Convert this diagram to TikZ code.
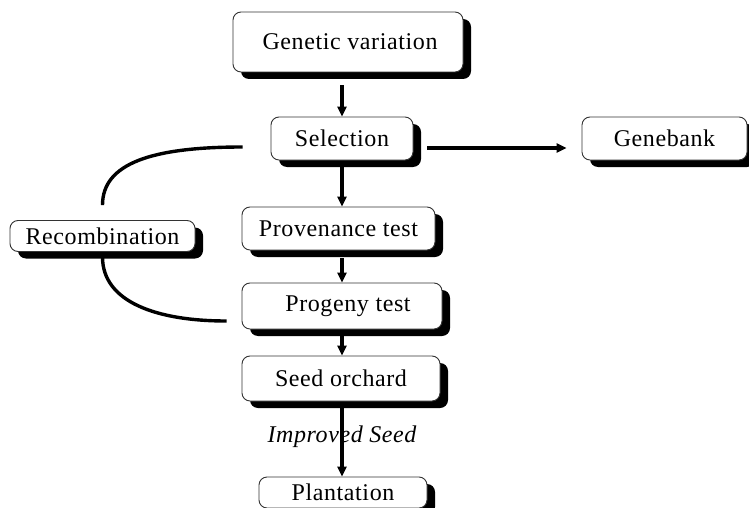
\documentclass[tikz,border=0pt]{standalone}
\usepackage{fontspec}
\setmainfont{Liberation Serif}[LetterSpace=2.5]
\usetikzlibrary{shadows,arrows.meta,calc}
\tikzset{
  box/.style={draw=black!80, line width=0.9pt, rounded corners=8pt, fill=white,
    inner sep=0pt, font=\fontsize{24}{28}\selectfont,
    drop shadow={shadow xshift=8pt, shadow yshift=-7pt, fill=black, opacity=1}},
  arr/.style={line width=3.2pt, -{Triangle[length=10pt,width=9pt]}},
  link/.style={line width=3.4pt},
  lbl/.style={font=\fontsize{24}{28}\selectfont\itshape, inner sep=0pt},
}
\begin{document}
\begin{tikzpicture}[x=1pt,y=-1pt]
\useasboundingbox (0,0) rectangle (749,508);
\node[box, minimum width=230pt, minimum height=60pt] (gv) at (348,42) {\raisebox{-3pt}{\hspace{4pt}Genetic variation}};
\node[box, minimum width=142pt, minimum height=43pt] (sel) at (342,138.5) {\raisebox{-4pt}{Selection}};
\node[box, minimum width=165pt, minimum height=43pt] (gb) at (664.5,138.5) {\raisebox{-4pt}{Genebank}};
\node[box, minimum width=193pt, minimum height=43pt] (prov) at (338.5,228.5) {\raisebox{-2pt}{Provenance test}};
\node[box, minimum width=185pt, minimum height=31pt] (rec) at (102.5,236) {Recombination};
\node[box, minimum width=200pt, minimum height=46pt] (prog) at (342,306) {\hspace{12pt}\raisebox{2pt}{Progeny test}};
\node[box, minimum width=198pt, minimum height=45pt] (seed) at (341,378.5) {\raisebox{-1pt}{Seed orchard}};
\node[box, minimum width=168pt, minimum height=31pt] (plant) at (343,492.5) {Plantation};

\draw[arr] ($(sel.north |- gv.south)+(0,13)$) -- (sel.north);
\draw[arr] ($(sel.south)+(0,7)$) -- (sel.south |- prov.north);
\draw[arr] ($(prov.south -| sel.south)+(0,8)$) -- (prog.north -| sel.south);
\draw[arr] ($(prog.south -| sel.south)+(0,5)$) -- (seed.north -| sel.south);
\draw[arr] ($(seed.south -| sel.south)+(0,6)$) -- (plant.north -| sel.south);
\node[lbl] (imp) at (342,437) {Improved Seed};
\draw[arr] ($(sel.east)+(14,9.5)$) -- ($(gb.west)+(-15,9.5)$);

\draw[link] ($(sel.west)+(-28,8.5)$) .. controls +(-90,0) and +(0,-42) .. ($(rec.north)+(0,-15)$);
\draw[link] ($(rec.south)+(0,5)$) .. controls +(0,45) and +(-70,0) .. ($(prog.west)+(-15,15)$);
\end{tikzpicture}
\end{document}
